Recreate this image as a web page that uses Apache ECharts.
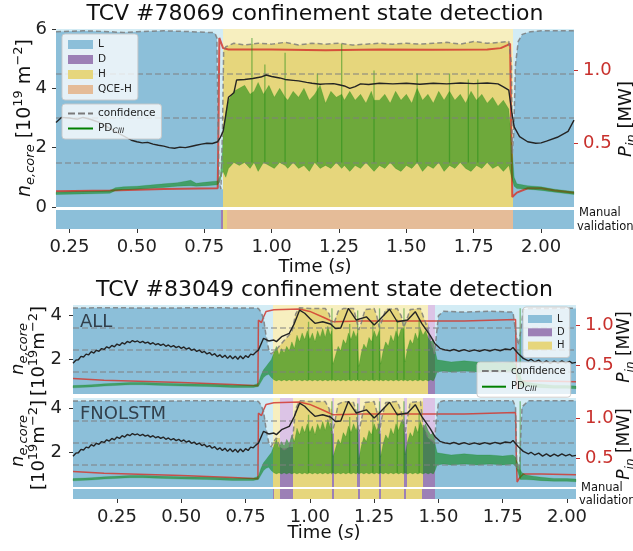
<!DOCTYPE html>
<html><head><meta charset="utf-8">
<script src="https://cdn.jsdelivr.net/npm/echarts@6/dist/echarts.min.js"></script>
<style>html,body{margin:0;padding:0;background:#fff}#c{width:633px;height:551px}</style>
</head><body><div id="c"></div>
<script>
// ---------------- DATA ----------------
const topTitle = 'TCV #78069 confinement state detection';
const botTitle = 'TCV #83049 confinement state detection';
const xTicks = [0.25, 0.5, 0.75, 1.0, 1.25, 1.5, 1.75, 2.0];
const neTicksTop = [0, 2, 4, 6];
const neTicksBot = [2, 4];
const pinTicks = [0.5, 1.0];

// Shot 78069: core density [1e19 m^-2]
const ne78 = [[0.20,2.85],[0.22,3.02],[0.25,3.0],[0.28,2.96],[0.30,3.02],[0.33,2.95],[0.36,2.85],[0.40,2.65],[0.44,2.45],[0.48,2.25],[0.50,2.2],[0.52,2.16],[0.54,2.18],[0.56,2.12],[0.58,2.08],[0.60,2.05],[0.62,2.0],[0.64,1.98],[0.66,2.02],[0.68,2.0],[0.70,2.04],[0.72,2.08],[0.74,2.12],[0.76,2.15],[0.78,2.14],[0.80,2.2],[0.81,2.35],[0.82,2.55],[0.83,3.1],[0.84,3.7],[0.86,3.85],[0.87,4.28],[0.90,4.3],[0.93,4.33],[0.96,4.38],[0.98,4.45],[1.00,4.4],[1.03,4.35],[1.05,4.3],[1.08,4.27],[1.10,4.25],[1.13,4.2],[1.15,4.17],[1.18,4.14],[1.20,4.15],[1.23,4.16],[1.25,4.12],[1.27,4.08],[1.29,4.0],[1.31,4.06],[1.33,4.15],[1.36,4.13],[1.40,4.17],[1.45,4.15],[1.50,4.17],[1.55,4.14],[1.60,4.17],[1.65,4.15],[1.70,4.18],[1.75,4.16],[1.80,4.18],[1.84,4.15],[1.86,4.05],[1.88,3.94],[1.89,3.27],[1.90,2.7],[1.92,2.37],[1.95,2.2],[1.98,2.15],[2.00,2.16],[2.02,2.22],[2.06,2.35],[2.10,2.55],[2.122,2.93]];
// Shot 78069: input power [MW]
const pin78 = [[0.20,0.17],[0.40,0.175],[0.60,0.185],[0.80,0.19],[0.803,0.6],[0.806,1.22],[0.81,1.2],[0.82,1.15],[0.84,1.14],[1.00,1.14],[1.20,1.135],[1.40,1.14],[1.60,1.138],[1.80,1.14],[1.85,1.15],[1.875,1.17],[1.885,1.18],[1.889,0.6],[1.893,0.13],[1.898,0.12],[1.91,0.16],[1.95,0.19],[2.00,0.19],[2.05,0.175],[2.122,0.16]];
// Shot 78069: PD_CIII signal envelope [t, low, high] (left-axis units)
const pd78 = [[0.20,0.42,0.5],[0.30,0.44,0.52],[0.40,0.46,0.55],[0.42,0.55,0.65],[0.45,0.58,0.68],[0.50,0.6,0.7],[0.55,0.63,0.74],[0.60,0.66,0.78],[0.65,0.7,0.82],[0.70,0.72,0.9],[0.72,0.7,0.8],[0.76,0.72,0.84],[0.80,0.75,0.88],[0.81,0.9,1.1],[0.815,1.1,1.6],
 [0.82,1.2,2.4],[0.83,1.0,3.2],[0.84,1.3,3.6],[0.86,1.5,3.9],[0.88,1.4,4.0],[0.90,1.5,4.1],[0.92,1.3,3.8],[0.935,1.5,3.9],[0.95,1.2,4.2],[0.97,1.5,3.8],[0.99,1.4,4.1],[1.01,1.3,3.7],[1.03,1.5,4.0],[1.05,1.4,3.7],[1.06,1.3,3.6],[1.08,1.5,3.9],[1.10,1.3,3.7],[1.12,1.4,4.0],[1.14,1.2,3.6],[1.16,1.5,3.8],[1.18,1.3,4.1],[1.20,1.4,3.5],[1.22,1.3,3.9],[1.24,1.5,3.7],[1.26,1.3,3.8],[1.27,1.4,3.6],[1.29,1.2,3.9],[1.31,1.4,3.6],[1.33,1.3,3.8],[1.35,1.5,3.5],[1.37,1.3,3.9],[1.38,1.2,3.6],[1.40,1.4,3.6],[1.42,1.3,3.8],[1.44,1.5,3.5],[1.46,1.3,3.9],[1.48,1.2,3.6],[1.50,1.4,3.8],[1.52,1.3,3.5],[1.54,1.5,4.0],[1.56,1.2,3.6],[1.58,1.4,3.8],[1.60,1.3,3.5],[1.62,1.5,3.9],[1.64,1.2,3.6],[1.66,1.4,3.9],[1.68,1.3,3.6],[1.70,1.5,3.8],[1.72,1.3,3.5],[1.74,1.2,3.9],[1.76,1.4,3.6],[1.78,1.3,3.8],[1.80,1.5,3.5],[1.82,1.3,3.7],[1.84,1.4,3.4],[1.86,1.2,3.6],[1.88,1.4,3.3],
 [1.89,1.0,2.2],[1.90,0.7,1.0],[1.91,0.62,0.78],[1.95,0.6,0.72],[2.00,0.56,0.68],[2.05,0.5,0.6],[2.122,0.42,0.52]];
// Shot 78069: isolated PD_CIII bursts [t, from, to]
const pdSpikes78 = [[0.927,1.5,5.7],[0.975,1.5,4.8],[1.05,1.5,5.2],[1.17,1.5,4.5],[1.26,1.5,5.5],[1.38,1.5,4.6],[1.54,1.5,4.5],[1.66,1.5,4.5],[1.73,1.5,4.3],[1.765,1.5,4.3]];
// Shot 78069: classifier confidence (0..1)
const conf78 = [[0.20,0.985],[0.30,0.99],[0.40,0.985],[0.45,0.98],[0.50,0.985],[0.60,0.99],[0.70,0.985],[0.78,0.98],[0.79,0.975],[0.797,0.95],[0.80,0.6],[0.805,0.15],[0.812,0.1],[0.818,0.45],[0.822,0.88],[0.83,0.9],[0.86,0.92],[0.90,0.91],[0.95,0.92],[1.00,0.915],[1.05,0.925],[1.10,0.91],[1.15,0.92],[1.20,0.915],[1.25,0.92],[1.30,0.91],[1.35,0.915],[1.40,0.92],[1.45,0.915],[1.50,0.92],[1.55,0.915],[1.60,0.92],[1.65,0.925],[1.70,0.915],[1.75,0.93],[1.80,0.92],[1.85,0.925],[1.88,0.93],[1.89,0.8],[1.893,0.3],[1.898,0.4],[1.905,0.8],[1.915,0.93],[1.93,0.97],[1.96,0.985],[2.00,0.99],[2.122,0.99]];
// Shot 78069: predicted and manual states [state, start, end]
const pred78 = [['L',0.2,0.818],['H',0.818,1.895],['L',1.895,2.122]];
const manual78 = [['L',0.2,0.813],['D',0.813,0.819],['H',0.819,0.836],['QCE-H',0.836,1.894],['L',1.894,2.122]];

// Shot 83049
const ne83 = [[0.079,1.84],[0.09,1.98],[0.10,2.0],[0.11,2.15],[0.12,2.12],[0.13,2.25],[0.14,2.22],[0.15,2.36],[0.16,2.3],[0.17,2.42],[0.18,2.38],[0.19,2.5],[0.20,2.46],[0.21,2.58],[0.22,2.52],[0.23,2.64],[0.24,2.58],[0.25,2.7],[0.26,2.64],[0.27,2.76],[0.28,2.7],[0.29,2.82],[0.30,2.76],[0.31,2.86],[0.32,2.8],[0.33,2.84],[0.34,2.76],[0.35,2.82],[0.36,2.74],[0.37,2.79],[0.38,2.7],[0.39,2.76],[0.40,2.67],[0.41,2.72],[0.42,2.64],[0.43,2.7],[0.44,2.6],[0.45,2.66],[0.46,2.57],[0.47,2.63],[0.48,2.54],[0.49,2.6],[0.50,2.51],[0.51,2.57],[0.52,2.47],[0.53,2.53],[0.54,2.42],[0.55,2.48],[0.56,2.37],[0.57,2.43],[0.58,2.32],[0.59,2.37],[0.60,2.26],[0.61,2.32],[0.62,2.2],[0.63,2.27],[0.64,2.14],[0.65,2.22],[0.66,2.1],[0.67,2.2],[0.68,2.06],[0.69,2.18],[0.70,2.04],[0.71,2.16],[0.72,2.02],[0.73,2.17],[0.74,2.04],[0.75,2.18],[0.76,2.1],[0.77,2.25],[0.78,2.22],[0.79,2.34],[0.80,2.43],[0.82,2.96],[0.84,2.84],[0.86,2.88],[0.87,2.81],[0.89,3.03],[0.92,3.18],[0.94,3.63],[0.96,4.22],[0.98,4.08],[1.00,3.85],[1.02,3.63],[1.05,3.7],[1.08,3.6],[1.10,3.4],[1.12,3.42],[1.15,4.3],[1.18,3.78],[1.22,3.92],[1.25,3.55],[1.27,3.78],[1.31,4.26],[1.34,3.7],[1.38,3.78],[1.41,4.15],[1.435,3.63],[1.467,3.1],[1.486,2.73],[1.506,2.51],[1.525,2.44],[1.545,2.4],[1.56,2.46],[1.58,2.38],[1.60,2.45],[1.62,2.37],[1.64,2.44],[1.66,2.38],[1.68,2.45],[1.70,2.39],[1.72,2.46],[1.74,2.4],[1.76,2.48],[1.78,2.45],[1.79,2.55],[1.81,2.28],[1.83,2.06],[1.85,1.95],[1.86,2.02],[1.875,1.9],[1.89,1.98],[1.905,1.85],[1.92,1.95],[1.935,1.84],[1.95,1.94],[1.965,1.85],[1.98,1.95],[1.995,1.86],[2.01,1.93],[2.02,1.85],[2.035,1.88]];
const pin83 = [[0.079,0.33],[0.2,0.31],[0.3,0.3],[0.5,0.28],[0.7,0.255],[0.798,0.24],[0.80,1.06],[0.805,1.08],[0.812,1.03],[0.82,1.1],[0.83,1.17],[0.86,1.19],[0.96,1.2],[1.0,1.17],[1.05,1.1],[1.09,1.04],[1.2,1.05],[1.4,1.05],[1.6,1.05],[1.80,1.07],[1.803,0.5],[1.806,0.2],[1.815,0.25],[1.83,0.3],[1.9,0.3],[2.035,0.29]];
const pd83 = [[0.079,0.74,0.84],[0.15,0.78,0.88],[0.2,0.82,0.92],[0.3,0.88,0.98],[0.35,0.88,0.98],[0.4,0.86,0.96],[0.5,0.82,0.92],[0.6,0.8,0.9],[0.7,0.76,0.86],[0.78,0.76,0.86],[0.80,0.8,0.95],[0.81,1.0,1.3],[0.82,1.2,1.55],[0.83,1.3,1.7],[0.84,1.35,1.85],[0.85,1.2,2.0],
 [0.86,1.1,2.3],[0.87,1.05,2.6],[0.88,1.1,2.2],[0.89,1.05,2.5],[0.90,1.1,2.3],[0.91,1.05,2.6],[0.92,1.1,2.4],[0.93,1.05,2.8],[0.94,1.1,2.5],[0.95,1.05,3.1],[0.96,1.1,2.8],[0.97,1.05,3.2],[0.98,1.1,2.9],[0.99,1.05,3.3],[1.00,1.1,2.9],[1.01,1.05,3.2],[1.02,1.1,2.8],[1.03,1.05,3.3],[1.04,1.1,3.0],[1.05,1.05,3.4],[1.06,1.1,3.0],[1.07,1.05,3.5],[1.08,1.1,3.1],[1.085,1.05,3.3],[1.09,1.1,1.8],[1.10,1.05,2.2],[1.11,1.1,2.6],[1.12,1.05,2.4],[1.13,1.1,2.9],[1.14,1.05,2.7],[1.15,1.1,3.2],[1.16,1.05,2.9],[1.17,1.1,3.3],[1.18,1.05,3.0],[1.185,1.1,3.2],[1.19,1.05,1.7],[1.20,1.1,2.3],[1.21,1.05,2.7],[1.22,1.1,2.5],[1.23,1.05,3.0],[1.24,1.1,2.8],[1.25,1.05,3.3],[1.26,1.1,3.0],[1.27,1.05,3.3],[1.275,1.1,1.8],[1.285,1.05,2.4],[1.295,1.1,2.8],[1.305,1.05,2.6],[1.315,1.1,3.1],[1.325,1.05,2.8],[1.335,1.1,3.3],[1.345,1.05,3.0],[1.355,1.1,3.4],[1.365,1.05,3.4],[1.37,1.1,1.9],[1.38,1.05,2.5],[1.39,1.1,2.9],[1.40,1.05,2.7],[1.41,1.1,3.2],[1.42,1.05,2.9],[1.43,1.1,3.4],[1.44,1.05,3.1],[1.45,1.1,3.3],[1.46,1.05,3.0],[1.47,1.1,2.8],[1.48,1.05,2.9],[1.487,1.2,2.4],
 [1.495,1.45,2.0],[1.52,1.5,1.95],[1.55,1.45,1.9],[1.6,1.5,1.95],[1.65,1.45,1.9],[1.7,1.5,1.9],[1.75,1.45,1.85],[1.79,1.5,1.9],[1.80,1.4,1.8],[1.81,1.1,1.5],[1.815,0.9,1.3],[1.82,0.8,1.2],[1.825,0.8,1.1],[1.84,0.8,1.0],[1.87,0.78,0.95],[1.9,0.75,0.9],[1.95,0.72,0.85],[2.0,0.72,0.84],[2.035,0.7,0.82]];
const pdSpikes83 = [[1.086,1.1,4.3],[1.186,1.1,4.2],[1.271,1.1,4.3],[1.366,1.1,4.3],[1.818,0.8,4.3],[0.995,1.1,3.7],[1.155,1.1,3.6],[1.245,1.1,3.7],[1.34,1.1,3.8],[1.425,1.1,3.8]];
const confAll83 = [[0.079,0.965],[0.2,0.97],[0.4,0.965],[0.6,0.97],[0.79,0.965],[0.80,0.96],[0.81,0.92],[0.82,0.85],[0.83,0.65],[0.84,0.5],[0.85,0.45],[0.857,0.46],[0.87,0.5],[0.90,0.6],[0.93,0.7],[0.945,0.9],[0.96,0.97],[1.0,0.96],[1.06,0.96],[1.075,0.9],[1.085,0.78],[1.095,0.8],[1.11,0.93],[1.13,0.96],[1.17,0.96],[1.18,0.85],[1.19,0.72],[1.20,0.8],[1.215,0.95],[1.25,0.96],[1.26,0.88],[1.27,0.75],[1.28,0.82],[1.295,0.95],[1.34,0.96],[1.355,0.88],[1.365,0.75],[1.375,0.82],[1.39,0.95],[1.43,0.96],[1.45,0.8],[1.47,0.6],[1.485,0.45],[1.49,0.6],[1.5,0.88],[1.52,0.93],[1.6,0.92],[1.7,0.93],[1.79,0.92],[1.80,0.7],[1.81,0.55],[1.82,0.7],[1.83,0.95],[1.85,0.96],[1.9,0.96],[2.035,0.965]];
const confFno83 = [[0.079,0.965],[0.2,0.97],[0.4,0.965],[0.6,0.97],[0.79,0.965],[0.80,0.96],[0.81,0.92],[0.82,0.85],[0.83,0.65],[0.84,0.5],[0.85,0.45],[0.857,0.5],[0.87,0.55],[0.884,0.45],[0.90,0.42],[0.92,0.45],[0.935,0.6],[0.945,0.88],[0.96,0.97],[1.0,0.96],[1.06,0.96],[1.075,0.88],[1.085,0.6],[1.095,0.7],[1.11,0.93],[1.13,0.96],[1.17,0.95],[1.18,0.85],[1.19,0.6],[1.20,0.75],[1.215,0.95],[1.25,0.96],[1.26,0.85],[1.27,0.6],[1.28,0.78],[1.295,0.95],[1.34,0.96],[1.355,0.85],[1.37,0.6],[1.38,0.78],[1.39,0.95],[1.43,0.96],[1.44,0.7],[1.46,0.55],[1.485,0.5],[1.49,0.7],[1.5,0.95],[1.52,0.97],[1.6,0.97],[1.7,0.97],[1.79,0.97],[1.80,0.9],[1.805,0.2],[1.815,0.2],[1.825,0.9],[1.85,0.97],[1.9,0.97],[2.035,0.97]];
const predAll83 = [['L',0.079,0.857],['H',0.857,1.46],['D',1.46,1.487],['L',1.487,2.035]];
const predFno83 = [['L',0.079,0.857],['H',0.857,0.884],['D',0.884,0.935],['H',0.935,1.085],['D',1.085,1.095],['H',1.095,1.185],['D',1.185,1.195],['H',1.195,1.268],['D',1.268,1.278],['H',1.278,1.366],['D',1.366,1.376],['H',1.376,1.44],['D',1.44,1.487],['L',1.487,2.035]];
const manual83 = [['L',0.079,0.857],['D',0.857,0.862],['H',0.862,0.884],['D',0.884,0.933],['H',0.933,1.087],['D',1.087,1.094],['H',1.094,1.187],['D',1.187,1.194],['H',1.194,1.27],['D',1.27,1.277],['H',1.277,1.318],['D',1.318,1.321],['H',1.321,1.367],['D',1.367,1.374],['H',1.374,1.436],['D',1.436,1.485],['L',1.485,2.035]];

// ---------------- STYLE ----------------
const FONT = 'DejaVu Sans';
const RED = '#c8302c';
const PD_FILL = 'rgba(0,128,0,0.52)';
const COL = {
  'L': {dark:'#8cbfd9', light:'#d3ecf5'},
  'H': {dark:'#e6d67c', light:'#f7efbf'},
  'D': {dark:'#9c80b6', light:'#dcc4e6'},
  'QCE-H': {dark:'#e5bc98', light:'#f5dcc6'}
};

function confAt(conf, t, strict) {
  let c = conf[0][1];
  for (const p of conf) { if (strict ? p[0] < t : p[0] <= t) c = p[1]; else break; }
  return c;
}

function fillSeries(state, segs, conf, xi, yi, strip) {
  const items = segs.filter(s => s[0] === state).map(s => [s[1], s[2]]);
  if (!items.length) return null;
  const c = COL[state];
  return {
    type: 'custom', name: state, xAxisIndex: xi, yAxisIndex: yi, z: 1, silent: true,
    itemStyle: {color: c.dark}, data: items,
    renderItem: function (params, api) {
      const t0 = api.value(0), t1 = api.value(1);
      const a = api.coord([t0, 1]), b = api.coord([t1, 0]);
      const x0 = Math.round(a[0]), x1 = Math.round(b[0]);
      const kids = [{type: 'rect', shape: {x: x0, y: a[1], width: Math.max(1, x1 - x0), height: b[1] - a[1]},
        style: {fill: strip ? c.dark : c.light}}];
      if (!strip) {
        const pts = [[x0, b[1]], [x0, api.coord([t0, confAt(conf, t0, false)])[1]]];
        for (const p of conf) if (p[0] > t0 && p[0] < t1) pts.push(api.coord([p[0], p[1]]));
        pts.push([x1, api.coord([t1, confAt(conf, t1, true)])[1]], [x1, b[1]]);
        kids.push({type: 'polygon', shape: {points: pts}, style: {fill: c.dark}});
      }
      return {type: 'group', children: kids};
    }
  };
}

function pdSeries(pd, xi, yi) {
  return {
    type: 'custom', name: '_pd', xAxisIndex: xi, yAxisIndex: yi, z: 3, silent: true,
    data: [[pd[0][0], pd[0][1]]],
    renderItem: function (params, api) {
      const up = pd.map(p => api.coord([p[0], p[2]]));
      const lo = pd.slice().reverse().map(p => api.coord([p[0], p[1]]));
      return {type: 'polygon', shape: {points: up.concat(lo)},
        style: {fill: PD_FILL, stroke: 'rgba(0,128,0,0.3)', lineWidth: 0.6}};
    }
  };
}
function spikeSeries(spikes, xi, yi) {
  return {
    type: 'custom', name: '_spk', xAxisIndex: xi, yAxisIndex: yi, z: 3, silent: true,
    data: spikes,
    renderItem: function (params, api) {
      const a = api.coord([api.value(0), api.value(1)]), b = api.coord([api.value(0), api.value(2)]);
      return {type: 'line', shape: {x1: a[0], y1: a[1], x2: b[0], y2: b[1]},
        style: {stroke: 'rgba(30,140,20,0.5)', lineWidth: 1.3}};
    }
  };
}

function panel(xi, yL, yR, yC, segs, conf, ne, pin, pd, spikes, redW) {
  const s = [];
  ['L', 'H', 'D'].forEach(st => { const f = fillSeries(st, segs, conf, xi, yC, false); if (f) s.push(f); });
  s.push({type: 'line', name: 'Pin', data: pin, xAxisIndex: xi, yAxisIndex: yR, symbol: 'none', z: 2, silent: true,
    lineStyle: {color: '#d23a30', width: redW, opacity: 0.85}});
  s.push(pdSeries(pd, xi, yL));
  s.push(spikeSeries(spikes, xi, yL));
  s.push({type: 'line', name: 'confidence', data: conf, xAxisIndex: xi, yAxisIndex: yC, symbol: 'none', z: 4, silent: true,
    itemStyle: {color: '#777'},
    lineStyle: {color: 'rgba(120,120,120,0.8)', width: 1.5, type: [5, 3]},
    markLine: {silent: true, symbol: 'none', label: {show: false}, animation: false,
      lineStyle: {color: 'rgba(128,128,128,0.65)', width: 1.5, type: [6, 3]},
      data: [{yAxis: 0.25}, {yAxis: 0.5}, {yAxis: 0.75}]}});
  s.push({type: 'line', name: 'ne', data: ne, xAxisIndex: xi, yAxisIndex: yL, symbol: 'none', z: 5, silent: true,
    lineStyle: {color: '#242424', width: 1.4}});
  return s;
}
function strip(xi, yi, segs) {
  return ['L', 'D', 'H', 'QCE-H'].map(st => fillSeries(st, segs, null, xi, yi, true)).filter(Boolean);
}

let series = [];
series = series.concat(panel(0, 0, 1, 2, pred78, conf78, ne78, pin78, pd78, pdSpikes78, 2));
series = series.concat(strip(1, 3, manual78));
series = series.concat(panel(2, 4, 5, 6, predAll83, confAll83, ne83, pin83, pd83, pdSpikes83, 1.5));
series = series.concat(panel(3, 7, 8, 9, predFno83, confFno83, ne83, pin83, pd83, pdSpikes83, 1.5));
series = series.concat(strip(4, 10, manual83));
series.push({type: 'line', name: 'PDCIII', data: [], xAxisIndex: 0, yAxisIndex: 0, symbol: 'none',
  itemStyle: {color: '#008000'}, lineStyle: {color: '#008000', width: 2}});

// ---------------- AXES ----------------
const noAxis = {axisLine: {show: false}, axisTick: {show: false}, axisLabel: {show: false}, splitLine: {show: false}};
function xAx(g, min, max, labels) {
  const a = Object.assign({type: 'value', gridIndex: g, min: min, max: max}, JSON.parse(JSON.stringify(noAxis)));
  if (labels) {
    a.axisTick = {show: true, customValues: xTicks, length: 4, lineStyle: {color: '#333'}};
    a.axisLabel = {show: true, customValues: xTicks, formatter: v => v.toFixed(2), fontSize: 18,
      fontFamily: FONT, color: '#222', margin: 9};
  }
  return a;
}
function yLeft(g, min, max, ticks, margin) {
  return {type: 'value', gridIndex: g, min: min, max: max, position: 'left', axisLine: {show: false}, splitLine: {show: false},
    axisTick: {show: true, customValues: ticks, length: 4, lineStyle: {color: '#333'}},
    axisLabel: {customValues: ticks, fontSize: 18, fontFamily: FONT, color: '#222', margin: margin}};
}
function yRight(g, min, max) {
  return {type: 'value', gridIndex: g, min: min, max: max, position: 'right', axisLine: {show: false}, splitLine: {show: false},
    axisTick: {show: true, customValues: pinTicks, length: 4, lineStyle: {color: RED}},
    axisLabel: {customValues: pinTicks, formatter: v => v.toFixed(1), fontSize: 18, fontFamily: FONT, color: RED, margin: 9}};
}
function yHidden(g) { return Object.assign({type: 'value', gridIndex: g, min: 0, max: 1, show: false}, JSON.parse(JSON.stringify(noAxis))); }

const grids = [
  {left: 56, top: 29, width: 518, height: 178},
  {left: 56, top: 210, width: 518, height: 19},
  {left: 73, top: 305, width: 503, height: 89},
  {left: 73, top: 398, width: 503, height: 89},
  {left: 73, top: 489, width: 503, height: 10}
].map(g => Object.assign(g, {containLabel: false, outerBoundsMode: 'none', show: false}));

const xAxes = [xAx(0, 0.2, 2.122, false), xAx(1, 0.2, 2.122, true), xAx(2, 0.079, 2.035, false), xAx(3, 0.079, 2.035, false), xAx(4, 0.079, 2.035, true)];
const yAxes = [
  yLeft(0, 0, 6, neTicksTop, 9), yRight(0, 0.0616, 1.281), yHidden(0),
  yHidden(1),
  yLeft(2, 0.465, 4.45, neTicksBot, 11), yRight(2, 0.1375, 1.25), yHidden(2),
  yLeft(3, 0.465, 4.45, neTicksBot, 11), yRight(3, 0.1375, 1.25), yHidden(3),
  yHidden(4)
];

// ---------------- LEGENDS ----------------
const legRich = {s: {fontSize: 7.5, fontStyle: 'italic', fontFamily: FONT, color: '#222', verticalAlign: 'bottom', padding: [5, 0, 0, 0]}};
const DASH_ICON = 'path://M0,0h7v2h-7z M10,0h7v2h-7z M20,0h5v2h-5z';
function legend(left, top, names, fs, iw, ih, gap, pad, isState) {
  return {left: left, top: top, orient: 'vertical', itemGap: gap, itemWidth: iw, itemHeight: ih, padding: pad,
    selectedMode: false, z: 20, backgroundColor: 'rgba(255,255,255,0.78)', borderColor: 'rgba(200,200,200,0.9)',
    borderWidth: 1, borderRadius: 3,
    textStyle: {fontSize: fs, fontFamily: FONT, color: '#222', rich: legRich},
    formatter: n => n === 'PDCIII' ? 'PD{s|CIII}' : n,
    data: names.map(n => isState ? {name: n, icon: 'rect', itemStyle: {color: COL[n].dark}}
      : (n === 'confidence' ? {name: n, icon: DASH_ICON, itemStyle: {color: '#7a7a7a'}}
                            : {name: n, icon: 'rect', itemStyle: {color: '#008000'}}))};
}
const legends = [
  legend(62, 34, ['L', 'D', 'H', 'QCE-H'], 10.5, 25, 9, 4, [5, 6], true),
  legend(62, 104, ['confidence', 'PDCIII'], 10.5, 25, 2, 4, [4, 6], false),
  legend(523, 307, ['L', 'D', 'H'], 10, 24, 8, 3.3, [7, 5], true),
  legend(477, 362, ['confidence', 'PDCIII'], 10, 24, 2, 5.7, [4, 5], false)
];

// ---------------- TEXT ----------------
function txt(x, y, text, rich, extra) {
  return {type: 'text', x: x, y: y, z: 30, silent: true,
    style: Object.assign({text: text, rich: rich, fontFamily: FONT, fill: '#111', align: 'center', verticalAlign: 'middle'}, extra || {})};
}
function richSet(big, small, color) {
  return {
    r: {fontSize: big, fontFamily: FONT, color: color, lineHeight: big + 6, verticalAlign: 'middle'},
    i: {fontSize: big, fontFamily: FONT, color: color, fontStyle: 'italic', lineHeight: big + 6, verticalAlign: 'middle'},
    sb: {fontSize: small, fontFamily: FONT, color: color, fontStyle: 'italic', lineHeight: small, verticalAlign: 'bottom'},
    sp: {fontSize: small, fontFamily: FONT, color: color, lineHeight: small, verticalAlign: 'top'}
  };
}
const NE_FULL = '{i|n}{sb|e,core}{r| [10}{sp|19}{r| m}{sp|−2}{r|]}';
const NE_1 = '{i|n}{sb|e,core}';
const NE_2 = '{r|[10}{sp|19}{r|m}{sp|−2}{r|]}';
const PIN = '{i|P}{sb|in}{r| [MW]}';
const rot = Math.PI / 2;
function rotated(el) { el.rotation = rot; return el; }
const graphics = [
  txt(315, 14, topTitle, null, {fontSize: 22}),
  txt(324.5, 290, botTitle, null, {fontSize: 22}),
  txt(315, 267, '{r|Time (}{i|s}{r|)}', richSet(18, 13, '#111')),
  txt(324, 533, '{r|Time (}{i|s}{r|)}', richSet(18, 13, '#111')),
  rotated(txt(25, 118, NE_FULL, richSet(19, 13, '#111'))),
  rotated(txt(626, 119, PIN, richSet(18, 13, RED))),
  rotated(txt(18, 349, NE_1, richSet(18, 13, '#111'))),
  rotated(txt(39, 351, NE_2, richSet(18, 13, '#111'))),
  rotated(txt(18, 441, NE_1, richSet(18, 13, '#111'))),
  rotated(txt(39, 445, NE_2, richSet(18, 13, '#111'))),
  rotated(txt(625, 347, PIN, richSet(17, 12, RED))),
  rotated(txt(625, 444, PIN, richSet(17, 12, RED))),
  txt(80, 322, 'ALL', null, {fontSize: 18, align: 'left', fill: 'rgba(40,50,60,0.9)'}),
  txt(80, 414, 'FNOLSTM', null, {fontSize: 18, align: 'left', fill: 'rgba(40,50,60,0.9)'}),
  txt(579, 213, 'Manual', null, {fontSize: 11.5, align: 'left', fill: '#111'}),
  txt(577, 227, 'validation', null, {fontSize: 11.5, align: 'left', fill: '#111'}),
  txt(581, 488, 'Manual', null, {fontSize: 11.5, align: 'left', fill: '#111'}),
  txt(579, 501, 'validation', null, {fontSize: 11.5, align: 'left', fill: '#111'})
];

const chart = echarts.init(document.getElementById('c'), null, {renderer: 'canvas'});
chart.setOption({
  animation: false,
  backgroundColor: '#fff',
  grid: grids, xAxis: xAxes, yAxis: yAxes,
  legend: legends,
  graphic: {elements: graphics},
  series: series
});
</script></body></html>
